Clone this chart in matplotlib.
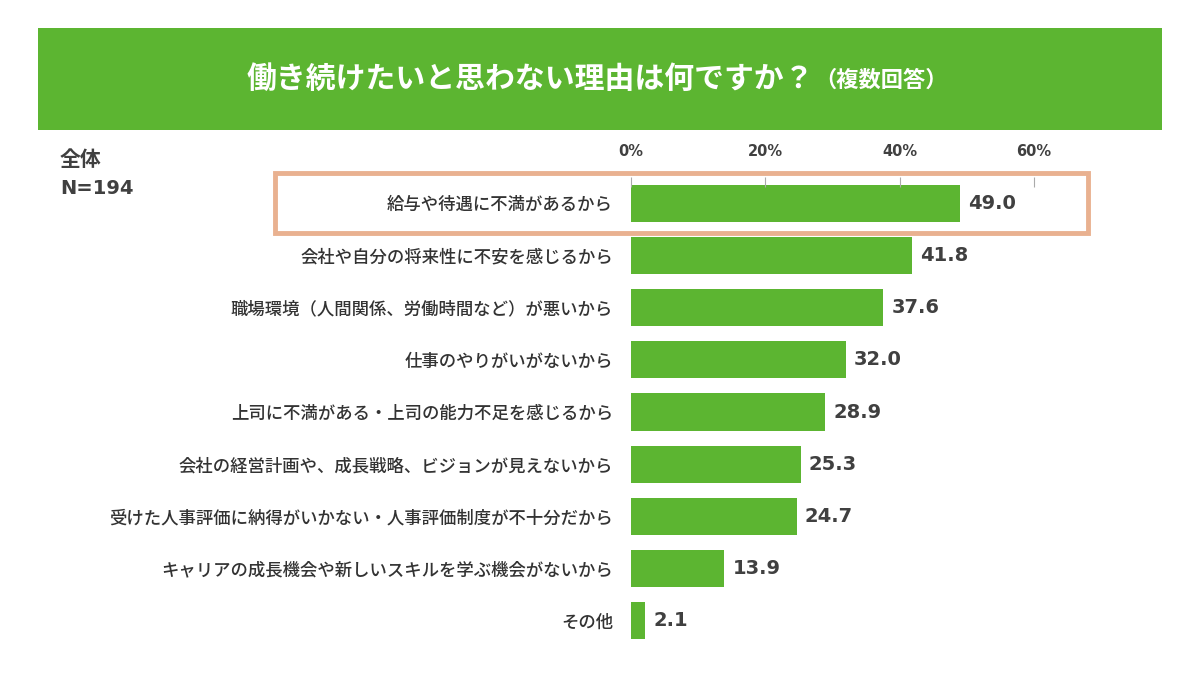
import matplotlib
matplotlib.use('Agg')
import matplotlib.pyplot as plt
from matplotlib.patches import Rectangle

plt.rcParams['font.family'] = ['Noto Sans CJK JP', 'DejaVu Sans']

TITLE = '働き続けたいと思わない理由は何ですか？'
SUBTITLE = '（複数回答）'
REASONS = [
    '給与や待遇に不満があるから',
    '会社や自分の将来性に不安を感じるから',
    '職場環境（人間関係、労働時間など）が悪いから',
    '仕事のやりがいがないから',
    '上司に不満がある・上司の能力不足を感じるから',
    '会社の経営計画や、成長戦略、ビジョンが見えないから',
    '受けた人事評価に納得がいかない・人事評価制度が不十分だから',
    'キャリアの成長機会や新しいスキルを学ぶ機会がないから',
    'その他',
]
VALUES = [49.0, 41.8, 37.6, 32.0, 28.9, 25.3, 24.7, 13.9, 2.1]
TICKS = [0, 20, 40, 60]

GREEN = '#5cb531'
TEXT = '#404040'
NUM_FONT = ['DejaVu Sans', 'Noto Sans CJK JP']

fig = plt.figure(figsize=(12, 6.75), dpi=100)

# title banner
fig.patches.append(Rectangle((38 / 1200, 1 - 130 / 675), 1124 / 1200, 102 / 675,
                             transform=fig.transFigure, facecolor=GREEN, edgecolor='none'))
fig.text(814 / 1200, 1 - 79 / 675, TITLE, ha='right', va='center', color='white',
         fontsize=21.5, fontweight='bold')
fig.text(814 / 1200, 1 - 80 / 675, SUBTITLE, ha='left', va='center', color='white',
         fontsize=16, fontweight='bold')

ax = fig.add_axes([631 / 1200, 1 - 647 / 675, (1101 - 631) / 1200, 470 / 675])
y = range(len(REASONS))
ax.barh(y, VALUES, height=0.71, color=GREEN)
ax.set_xlim(0, 70)
ax.set_ylim(len(REASONS) - 0.5, -0.5)
for s in ax.spines.values():
    s.set_visible(False)
ax.xaxis.set_ticks_position('top')
ax.set_xticks(TICKS)
ax.set_xticklabels([f'{v}%' for v in TICKS])
for lbl in ax.get_xticklabels():
    lbl.set_fontfamily(NUM_FONT)
    lbl.set_fontweight('bold')
    lbl.set_fontsize(10.5)
    lbl.set_color(TEXT)
ax.tick_params(axis='x', direction='in', length=7, color='#aaaaaa', pad=13)
ax.set_yticks(list(y))
ax.set_yticklabels(REASONS, fontsize=12.5, color='#333333', fontweight=500)
ax.tick_params(axis='y', length=0, pad=13)
for i, v in enumerate(VALUES):
    ax.text(v + 1.2, i, f'{v:.1f}', va='center', ha='left', fontsize=14,
            fontweight='bold', color=TEXT, family=NUM_FONT)

# highlight box around first row
fig.patches.append(Rectangle((275 / 1200, 1 - 233 / 675), 813 / 1200, 60 / 675,
                             transform=fig.transFigure, facecolor='none',
                             edgecolor='#e9b190', linewidth=3.5))

fig.text(60 / 1200, 1 - 160 / 675, '全体', fontsize=15, color=TEXT, va='center',
         fontweight='bold')
fig.text(60 / 1200, 1 - 188 / 675, 'N=194', fontsize=14, color=TEXT, va='center',
         fontweight='bold', family=NUM_FONT)

fig.savefig('out.png', dpi=100)
